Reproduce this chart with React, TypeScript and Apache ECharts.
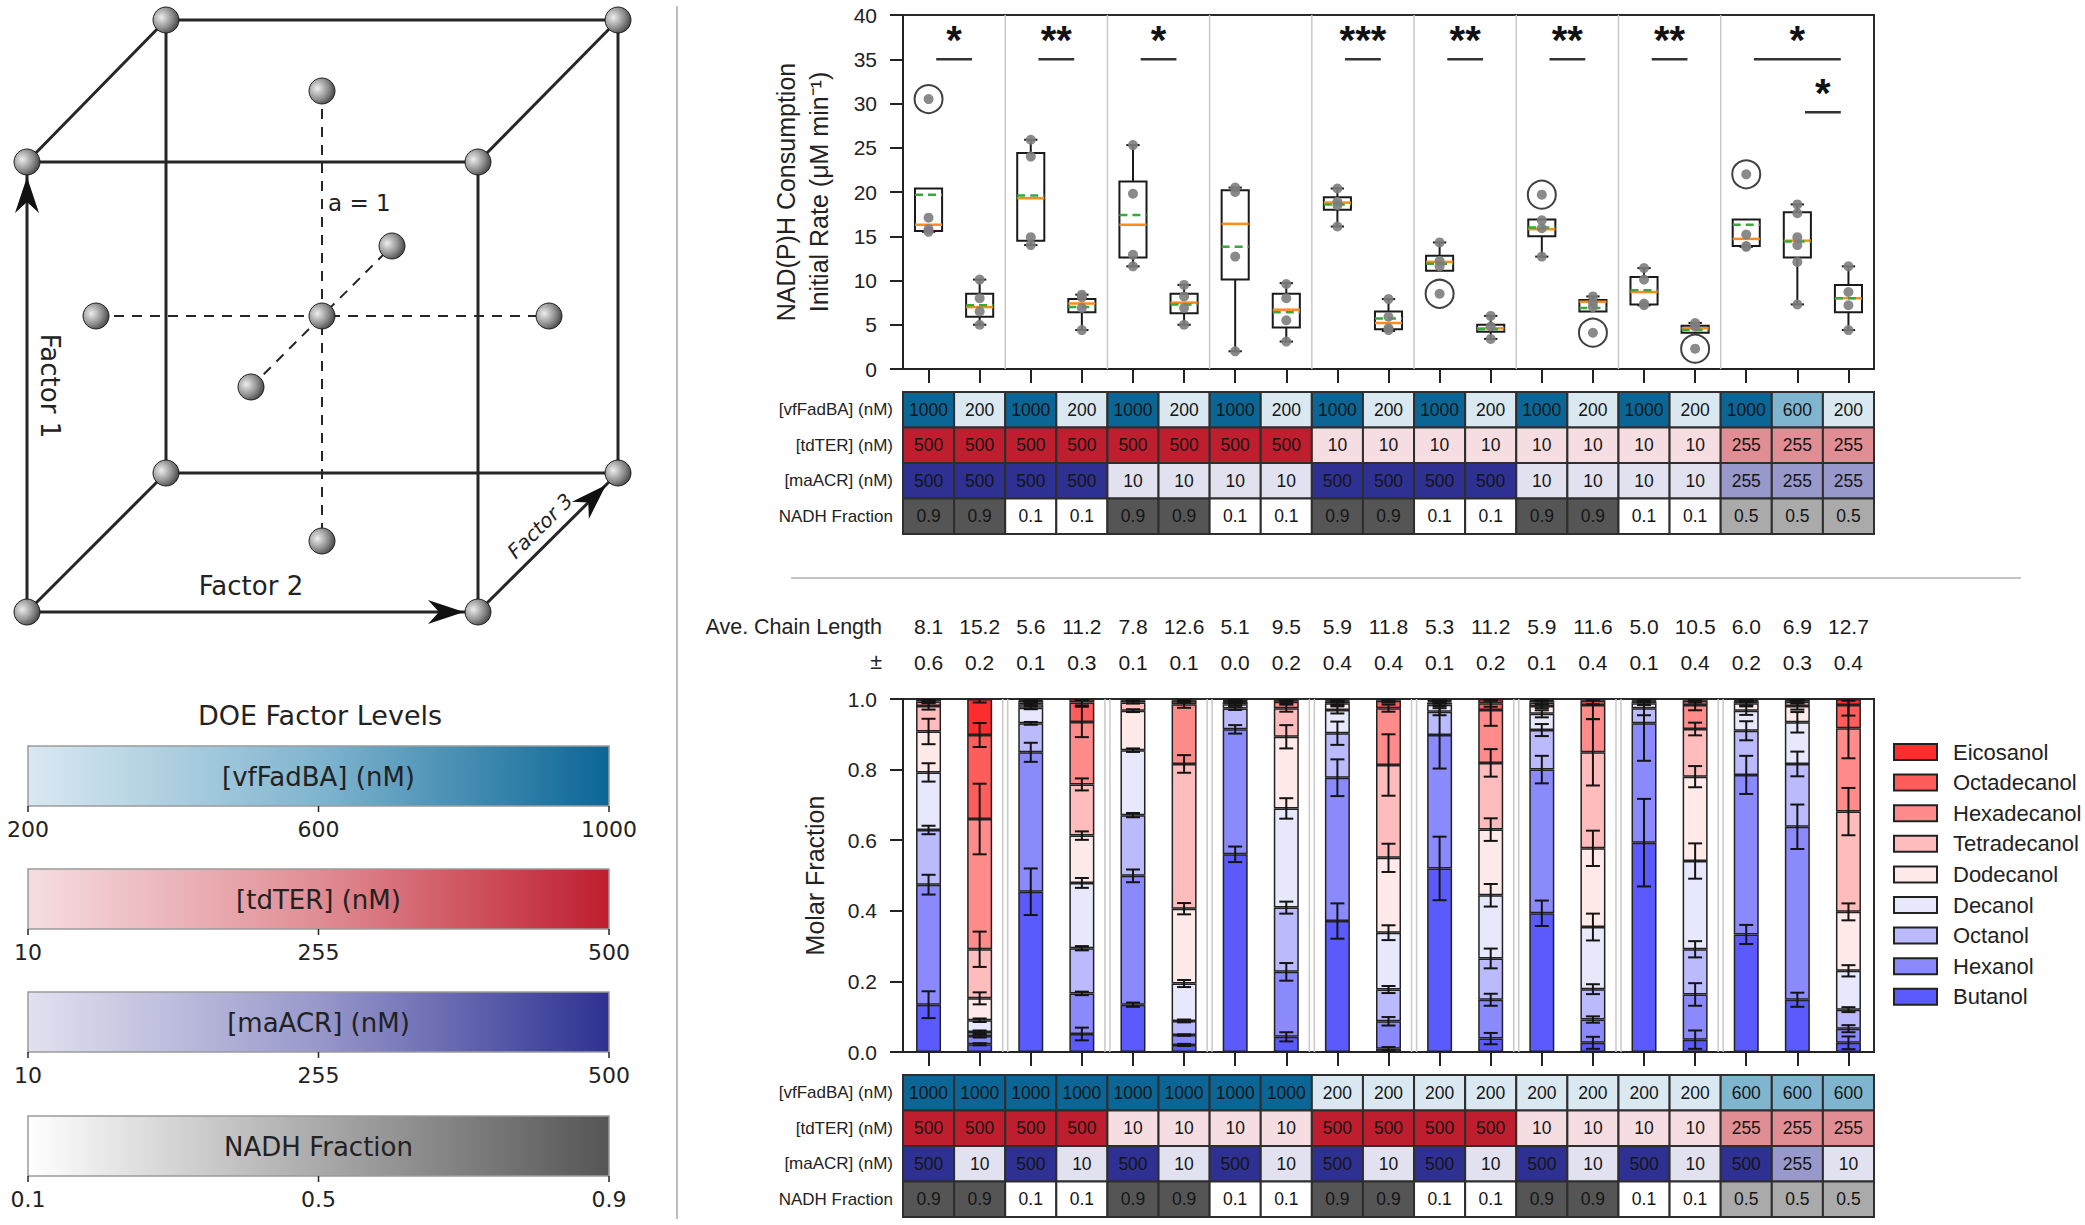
import React, { useEffect, useRef } from "react";
import * as echarts from "echarts";

const CHART_FONT = "'Liberation Sans', Arial, Helvetica, sans-serif";
const PANEL_FONT = "'DejaVu Sans', Verdana, sans-serif";

// ---------- categories ----------
const conditions = ["1","2","3","4","5","6","7","8","9","10","11","12","13","14","15","16","17","18","19"];
const groupSizes = [2, 2, 2, 2, 2, 2, 2, 2, 3];

// ---------- top: NAD(P)H consumption initial rate (box plots) ----------
const boxLow = [15.5, 5.0, 14.0, 4.4, 11.6, 5.0, 2.0, 3.1, 16.1, 4.3, 11.1, 3.4, 12.7, 6.5, 7.2, 4.1, 13.8, 7.3, 4.4];
const boxQ1 = [15.6, 5.9, 14.5, 6.4, 12.6, 6.3, 10.1, 4.7, 18.0, 4.5, 11.1, 4.2, 15.0, 6.5, 7.3, 4.1, 13.9, 12.6, 6.4];
const boxMedian = [16.3, 7.0, 19.3, 7.4, 16.3, 7.5, 16.4, 6.7, 18.8, 5.2, 12.1, 4.6, 15.8, 7.6, 8.7, 4.6, 14.7, 14.5, 8.0];
const boxQ3 = [20.4, 8.5, 24.4, 7.9, 21.2, 8.5, 20.2, 8.5, 19.4, 6.5, 12.8, 5.0, 16.9, 7.8, 10.4, 4.9, 16.9, 17.7, 9.5];
const boxHigh = [20.4, 10.1, 25.9, 8.4, 25.3, 9.5, 20.5, 9.7, 20.4, 7.9, 14.3, 6.0, 16.9, 8.2, 11.4, 5.2, 16.9, 18.6, 11.6];
const boxMean = [19.7, 7.2, 19.6, 7.0, 17.4, 7.3, 13.8, 6.4, 18.6, 5.7, 11.9, 4.5, 16.0, 6.9, 8.9, 4.4, 16.3, 14.4, 8.0];
const boxPoints = [
  [17.1, 15.8, 15.5],
  [10.1, 8.0, 6.5, 5.0],
  [25.9, 24.0, 14.9, 14.0],
  [8.4, 8.1, 6.9, 4.4],
  [25.3, 19.8, 12.9, 11.6],
  [9.5, 8.2, 6.9, 5.0],
  [20.5, 20.0, 12.7, 2.0],
  [9.6, 8.0, 5.5, 3.1],
  [20.4, 18.9, 18.5, 16.1],
  [7.9, 5.9, 4.6, 4.4],
  [14.3, 12.2, 11.6],
  [6.0, 4.8, 3.4],
  [16.8, 15.9, 12.7],
  [8.2, 7.5, 7.0],
  [11.4, 10.1, 7.4, 7.2],
  [5.2, 4.8],
  [15.2, 13.9, 13.8],
  [18.6, 17.6, 14.9, 14.0, 12.1, 7.3],
  [11.6, 8.7, 7.2, 4.4],
];
const outlierRuns = [0, 10, 12, 13, 15, 16];
const outlierValues = [30.5, 8.5, 19.7, 4.1, 2.3, 22.0];
const sigFrom = [0, 2, 4, 8, 10, 12, 14, 16, 17];
const sigTo = [1, 3, 5, 9, 11, 13, 15, 18, 18];
const sigLevel = [35, 35, 35, 35, 35, 35, 35, 35, 29];
const sigLabels = ["*", "**", "*", "***", "**", "**", "**", "*", "*"];

// ---------- factor tables ----------
const factorNames = ["[vfFadBA] (nM)", "[tdTER] (nM)", "[maACR] (nM)", "NADH Fraction"];
const topVfFadBA = [1000, 200, 1000, 200, 1000, 200, 1000, 200, 1000, 200, 1000, 200, 1000, 200, 1000, 200, 1000, 600, 200];
const topTdTER = [500, 500, 500, 500, 500, 500, 500, 500, 10, 10, 10, 10, 10, 10, 10, 10, 255, 255, 255];
const topMaACR = [500, 500, 500, 500, 10, 10, 10, 10, 500, 500, 500, 500, 10, 10, 10, 10, 255, 255, 255];
const topNADH = [0.9, 0.9, 0.1, 0.1, 0.9, 0.9, 0.1, 0.1, 0.9, 0.9, 0.1, 0.1, 0.9, 0.9, 0.1, 0.1, 0.5, 0.5, 0.5];
const botVfFadBA = [1000, 1000, 1000, 1000, 1000, 1000, 1000, 1000, 200, 200, 200, 200, 200, 200, 200, 200, 600, 600, 600];
const botTdTER = [500, 500, 500, 500, 10, 10, 10, 10, 500, 500, 500, 500, 10, 10, 10, 10, 255, 255, 255];
const botMaACR = [500, 10, 500, 10, 500, 10, 500, 10, 500, 10, 500, 10, 500, 10, 500, 10, 500, 255, 10];
const botNADH = [0.9, 0.9, 0.1, 0.1, 0.9, 0.9, 0.1, 0.1, 0.9, 0.9, 0.1, 0.1, 0.9, 0.9, 0.1, 0.1, 0.5, 0.5, 0.5];

// ---------- chain length ----------
const chainRowNames = ["Ave. Chain Length", "\u00B1"];
const chainLength = [8.1, 15.2, 5.6, 11.2, 7.8, 12.6, 5.1, 9.5, 5.9, 11.8, 5.3, 11.2, 5.9, 11.6, 5.0, 10.5, 6.0, 6.9, 12.7];
const chainErr = [0.6, 0.2, 0.1, 0.3, 0.1, 0.1, 0.0, 0.2, 0.4, 0.4, 0.1, 0.2, 0.1, 0.4, 0.1, 0.4, 0.2, 0.3, 0.4];

// ---------- bottom: molar fractions (stack order bottom -> top) ----------
const alcoholNames = ["Butanol", "Hexanol", "Octanol", "Decanol", "Dodecanol", "Tetradecanol", "Hexadecanol", "Octadecanol", "Eicosanol"];
const butanol = [0.134, 0.022, 0.454, 0.051, 0.134, 0.020, 0.560, 0.043, 0.371, 0.009, 0.520, 0.038, 0.393, 0.026, 0.593, 0.035, 0.333, 0.148, 0.026];
const hexanol = [0.340, 0.023, 0.395, 0.115, 0.365, 0.028, 0.354, 0.184, 0.406, 0.078, 0.378, 0.110, 0.407, 0.066, 0.338, 0.128, 0.452, 0.490, 0.040];
const octanol = [0.155, 0.012, 0.082, 0.128, 0.172, 0.040, 0.059, 0.182, 0.126, 0.090, 0.066, 0.117, 0.112, 0.086, 0.043, 0.128, 0.125, 0.178, 0.054];
const decanol = [0.163, 0.033, 0.044, 0.185, 0.184, 0.106, 0.012, 0.281, 0.066, 0.161, 0.020, 0.179, 0.046, 0.176, 0.014, 0.250, 0.057, 0.118, 0.110];
const dodecanol = [0.116, 0.062, 0.010, 0.134, 0.112, 0.212, 0.007, 0.203, 0.019, 0.212, 0.006, 0.186, 0.022, 0.223, 0.005, 0.239, 0.021, 0.046, 0.167];
const tetradecanol = [0.072, 0.139, 0.005, 0.145, 0.023, 0.410, 0.003, 0.081, 0.005, 0.263, 0.004, 0.189, 0.010, 0.272, 0.003, 0.135, 0.006, 0.012, 0.284];
const hexadecanol = [0.013, 0.369, 0.005, 0.177, 0.006, 0.169, 0.002, 0.018, 0.003, 0.161, 0.003, 0.150, 0.005, 0.134, 0.002, 0.068, 0.003, 0.005, 0.236];
const octadecanol = [0.005, 0.238, 0.003, 0.055, 0.003, 0.010, 0.002, 0.005, 0.002, 0.021, 0.002, 0.019, 0.003, 0.012, 0.001, 0.012, 0.002, 0.002, 0.066];
const eicosanol = [0.002, 0.102, 0.002, 0.010, 0.001, 0.005, 0.001, 0.003, 0.002, 0.005, 0.001, 0.012, 0.002, 0.005, 0.001, 0.005, 0.001, 0.001, 0.017];

const butanolErr = [0.038, 0.003, 0.066, 0.018, 0.006, 0.003, 0.022, 0.013, 0.050, 0.005, 0.090, 0.016, 0.036, 0.017, 0.124, 0.026, 0.027, 0.020, 0.018];
const hexanolErr = [0.028, 0.004, 0.027, 0.005, 0.018, 0.002, 0.012, 0.025, 0.052, 0.012, 0.095, 0.017, 0.039, 0.009, 0.106, 0.032, 0.054, 0.063, 0.010];
const octanolErr = [0.012, 0.004, 0.004, 0.006, 0.006, 0.004, 0.004, 0.017, 0.033, 0.010, 0.010, 0.028, 0.017, 0.014, 0.020, 0.023, 0.027, 0.035, 0.007];
const decanolErr = [0.026, 0.005, 0.004, 0.014, 0.005, 0.010, 0.003, 0.029, 0.010, 0.021, 0.004, 0.032, 0.010, 0.038, 0.005, 0.050, 0.012, 0.029, 0.016];
const dodecanolErr = [0.036, 0.017, 0.003, 0.012, 0.004, 0.016, 0.002, 0.033, 0.005, 0.040, 0.003, 0.032, 0.006, 0.050, 0.003, 0.030, 0.006, 0.010, 0.024];
const tetradecanolErr = [0.010, 0.050, 0.003, 0.017, 0.003, 0.025, 0.001, 0.010, 0.003, 0.087, 0.002, 0.039, 0.004, 0.094, 0.002, 0.018, 0.003, 0.005, 0.067];
const hexadecanolErr = [0.005, 0.100, 0.002, 0.043, 0.002, 0.010, 0.001, 0.005, 0.002, 0.010, 0.002, 0.045, 0.002, 0.040, 0.001, 0.015, 0.002, 0.002, 0.085];
const octadecanolErr = [0.003, 0.034, 0.002, 0.008, 0.001, 0.005, 0.001, 0.003, 0.002, 0.005, 0.001, 0.010, 0.001, 0.010, 0.001, 0.005, 0.001, 0.001, 0.030];
const eicosanolErr = [0.005, 0.010, 0.002, 0.003, 0.001, 0.003, 0.001, 0.002, 0.001, 0.003, 0.001, 0.005, 0.001, 0.003, 0.001, 0.003, 0.001, 0.001, 0.005];

const alcoholValues = [butanol, hexanol, octanol, decanol, dodecanol, tetradecanol, hexadecanol, octadecanol, eicosanol];
const alcoholErrs = [butanolErr, hexanolErr, octanolErr, decanolErr, dodecanolErr, tetradecanolErr, hexadecanolErr, octadecanolErr, eicosanolErr];
const alcoholColors = ["#5b5bfd", "#8a8afd", "#babafd", "#e8e8fd", "#ffe9e9", "#ffbcbc", "#ff8b8b", "#ff5c5c", "#ff2d2d"];

// ---------- colour ramps for factor levels ----------
const vfStops: [number, string][] = [[200, "#d9e8f1"], [600, "#80b5cf"], [1000, "#0b6696"]];
const terStops: [number, string][] = [[10, "#f6dde1"], [255, "#e08d94"], [500, "#bf1e2e"]];
const acrStops: [number, string][] = [[10, "#e1e1ef"], [255, "#9898cb"], [500, "#2e3192"]];
const nadhStops: [number, string][] = [[0.1, "#ffffff"], [0.5, "#aaaaaa"], [0.9, "#555555"]];
const rowStops = [vfStops, terStops, acrStops, nadhStops];
const levelTicks = [["200", "600", "1000"], ["10", "255", "500"], ["10", "255", "500"], ["0.1", "0.5", "0.9"]];

function hexToRgb(h: string) {
  const n = parseInt(h.slice(1), 16);
  return [(n >> 16) & 255, (n >> 8) & 255, n & 255];
}
function rampColor(stops: [number, string][], v: number) {
  let i = 0;
  while (i < stops.length - 2 && v > stops[i + 1][0]) i++;
  const [v0, c0] = stops[i];
  const [v1, c1] = stops[i + 1];
  const t = Math.max(0, Math.min(1, (v - v0) / (v1 - v0)));
  const a = hexToRgb(c0), b = hexToRgb(c1);
  const c = a.map((x, k) => Math.round(x + (b[k] - x) * t));
  return `rgb(${c[0]},${c[1]},${c[2]})`;
}

function tableData(rows: number[][]) {
  const out: number[][] = [];
  rows.forEach((r, ri) => r.forEach((v, ci) => out.push([ci, ri, v])));
  return out;
}

function separatorIndices() {
  const out: number[][] = [];
  let acc = 0;
  groupSizes.slice(0, -1).forEach((g) => {
    acc += g;
    out.push([acc - 1, 0]);
  });
  return out;
}

function tableSeries(gridIdx: number, rows: number[][]) {
  return {
    type: "custom",
    xAxisIndex: gridIdx,
    yAxisIndex: gridIdx,
    encode: { x: 0, y: 1 },
    data: tableData(rows),
    renderItem: (params: any, api: any) => {
      const col = api.value(0), row = api.value(1), v = api.value(2);
      const c = api.coord([col, row]);
      const s = api.size([1, 1]);
      return {
        type: "group",
        children: [
          {
            type: "rect",
            shape: { x: c[0] - s[0] / 2, y: c[1] - s[1] / 2, width: s[0], height: s[1] },
            style: { fill: rampColor(rowStops[row], v), stroke: "#2e2e2e", lineWidth: 2 },
          },
          {
            type: "text",
            x: c[0],
            y: c[1],
            style: {
              text: String(v), fill: "#151515", fontSize: 17.5, fontFamily: CHART_FONT,
              align: "center", verticalAlign: "middle", textAlign: "center", textVerticalAlign: "middle",
            },
          },
        ],
      };
    },
  };
}

function separatorSeries(gridIdx: number, double: boolean) {
  return {
    type: "custom",
    xAxisIndex: gridIdx,
    yAxisIndex: gridIdx,
    z: 1,
    encode: { x: 0, y: 1 },
    data: separatorIndices(),
    renderItem: (params: any, api: any) => {
      const cs = params.coordSys;
      const x = api.coord([api.value(0), 0])[0] + api.size([1, 0])[0] / 2;
      const offs = double ? [-2.5, 2.5] : [0];
      return {
        type: "group",
        children: offs.map((o) => ({
          type: "line",
          shape: { x1: x + o, y1: cs.y, x2: x + o, y2: cs.y + cs.height },
          style: { stroke: "#c8c8c8", lineWidth: 1.5 },
        })),
      };
    },
  };
}

// ---------- left panel (DOE cube + colour bars) ----------
function buildPanel() {
  const els: any[] = [];
  const dark = "#262626";
  const line = (a: number[], b: number[], w = 3, dash?: number[]) => ({
    type: "line", z: 1,
    shape: { x1: a[0], y1: a[1], x2: b[0], y2: b[1] },
    style: { stroke: dark, lineWidth: w, lineDash: dash },
  });
  const fTL = [27, 162], fTR = [478, 162], fBR = [478, 612], fBL = [27, 612];
  const bTL = [166, 20], bTR = [618, 20], bBR = [618, 473], bBL = [166, 473];
  const center = [322, 316];
  const sTop = [322, 91], sBot = [322, 541], sLeft = [96, 316], sRight = [549, 316], sBack = [392, 246], sFront = [251, 387];
  [[fTL, fTR], [fTR, fBR], [fBL, fTL], [fBL, fBR], [bTL, bTR], [bTR, bBR], [bBR, bBL], [bBL, bTL], [fTL, bTL], [fTR, bTR], [fBL, bBL], [fBR, bBR]]
    .forEach(([a, b]) => els.push(line(a, b, 3)));
  [[sTop, sBot], [sLeft, sRight], [sFront, sBack]].forEach(([a, b]) => els.push(line(a, b, 2, [10, 8])));
  const arrow = (tip: number[], dir: number[]) => {
    const L = Math.hypot(dir[0], dir[1]);
    const d = [dir[0] / L, dir[1] / L];
    const p = [-d[1], d[0]];
    const len = 36, half = 12, notch = 11;
    return {
      type: "polygon", z: 2,
      shape: {
        points: [
          tip,
          [tip[0] - d[0] * len + p[0] * half, tip[1] - d[1] * len + p[1] * half],
          [tip[0] - d[0] * (len - notch), tip[1] - d[1] * (len - notch)],
          [tip[0] - d[0] * len - p[0] * half, tip[1] - d[1] * len - p[1] * half],
        ],
      },
      style: { fill: "#111" },
    };
  };
  els.push(arrow([27, 177], [0, -1]));
  els.push(arrow([464, 612], [1, 0]));
  els.push(arrow([606, 485], [140, -139]));
  [fTL, fTR, fBR, fBL, bTL, bTR, bBR, bBL, center, sTop, sBot, sLeft, sRight, sBack, sFront].forEach((c) =>
    els.push({
      type: "circle", z: 3,
      shape: { cx: c[0], cy: c[1], r: 13 },
      style: {
        fill: { type: "radial", x: 0.32, y: 0.4, r: 0.8, colorStops: [{ offset: 0, color: "#eeeeee" }, { offset: 0.55, color: "#8a8a8a" }, { offset: 1, color: "#2a2a2a" }] },
        stroke: "#1e1e1e", lineWidth: 1,
      },
    })
  );
  const txt = (text: string, x: number, y: number, size: number, extra: any = {}, st: any = {}) => ({
    type: "text", x, y, z: 4, ...extra,
    style: {
      text, fontSize: size, fontFamily: PANEL_FONT, fill: "#222",
      align: "center", verticalAlign: "middle", textAlign: "center", textVerticalAlign: "middle", ...st,
    },
  });
  els.push(txt("a = 1", 328, 203, 23, {}, { align: "left", textAlign: "left" }));
  els.push(txt("Factor 1", 50, 386, 26, { rotation: -Math.PI / 2 }));
  els.push(txt("Factor 2", 251, 586, 26));
  els.push(txt("Factor 3", 540, 526, 20, { rotation: 0.78 }, { fontStyle: "italic" }));

  // colour bars
  els.push(txt("DOE Factor Levels", 320, 715, 27));
  const barTops = [746, 869, 992, 1116];
  const bx = 28, bw = 581, bh = 60;
  barTops.forEach((y, i) => {
    const stops = rowStops[i];
    const lo = stops[0][0], hi = stops[stops.length - 1][0];
    els.push({
      type: "rect", z: 1,
      shape: { x: bx, y, width: bw, height: bh },
      style: {
        fill: { type: "linear", x: 0, y: 0, x2: 1, y2: 0, colorStops: stops.map(([v, c]) => ({ offset: (v - lo) / (hi - lo), color: c })) },
        stroke: "#9a9a9a", lineWidth: 1.5,
      },
    });
    els.push(txt(factorNames[i], bx + bw / 2, y + bh / 2 + 1, 26));
    [0, 0.5, 1].forEach((f, k) => {
      const x = bx + bw * f;
      els.push(line([x, y + bh], [x, y + bh + 6], 1.5));
      els.push(txt(levelTicks[i][k], x, y + bh + 23, 22));
    });
  });

  // dividers
  els.push({ type: "line", z: 0, shape: { x1: 677, y1: 6, x2: 677, y2: 1219 }, style: { stroke: "#a8a8a8", lineWidth: 1.5 } });
  els.push({ type: "line", z: 0, shape: { x1: 791, y1: 578, x2: 2021, y2: 578 }, style: { stroke: "#b0b0b0", lineWidth: 1.5 } });
  return els;
}

function buildOption() {
  const axisCol = "#222";
  const hiddenX = (g: number) => ({ type: "category", gridIndex: g, data: conditions, show: false });
  const tableY = (g: number, names: string[], margin: number, size: number) => ({
    type: "category", gridIndex: g, data: names, inverse: true,
    axisLine: { show: false }, axisTick: { show: false }, splitLine: { show: false },
    axisLabel: { fontSize: size, color: axisCol, margin, fontFamily: CHART_FONT },
  });

  const boxData = conditions.map((_, i) => [i, boxLow[i], boxQ1[i], boxMedian[i], boxQ3[i], boxHigh[i], boxMean[i]]);
  const pointData: number[][] = [];
  boxPoints.forEach((pts, i) => pts.forEach((v) => pointData.push([i, v])));
  const outlierData = outlierRuns.map((r, k) => [r, outlierValues[k]]);
  const sigData = sigFrom.map((f, k) => [f, sigTo[k], sigLevel[k]]);

  const errData: number[][] = [];
  conditions.forEach((_, i) => {
    let cum = 0;
    alcoholValues.forEach((arr, k) => {
      cum += arr[i];
      errData.push([i, cum, alcoholErrs[k][i]]);
    });
  });

  const chainData: number[][] = [];
  conditions.forEach((_, i) => {
    chainData.push([i, 0, chainLength[i]]);
    chainData.push([i, 1, chainErr[i]]);
  });

  return {
    animation: false,
    backgroundColor: "#ffffff",
    textStyle: { fontFamily: CHART_FONT },
    graphic: { elements: buildPanel() },
    legend: {
      data: alcoholNames.slice().reverse(),
      orient: "vertical", left: 1893, top: 741, padding: 0,
      itemWidth: 43, itemHeight: 16, itemGap: 8.6, icon: "rect", selectedMode: false,
      textStyle: { fontSize: 22, color: axisCol, fontFamily: CHART_FONT, lineHeight: 16, padding: [0, 0, 0, 11] },
    },
    grid: [
      { left: 903, top: 15, width: 971, height: 354, show: true, borderColor: "#2a2a2a", borderWidth: 2 },
      { left: 903, top: 392, width: 971, height: 142 },
      { left: 903, top: 609, width: 971, height: 71 },
      { left: 903, top: 699, width: 971, height: 353, show: true, borderColor: "#2a2a2a", borderWidth: 2 },
      { left: 903, top: 1075, width: 971, height: 142 },
    ],
    xAxis: [
      {
        type: "category", gridIndex: 0, data: conditions,
        axisLabel: { show: false },
        axisTick: { show: true, alignWithLabel: true, length: 14, lineStyle: { color: axisCol, width: 2 } },
        axisLine: { lineStyle: { color: axisCol, width: 2 } },
      },
      hiddenX(1),
      hiddenX(2),
      {
        type: "category", gridIndex: 3, data: conditions,
        axisLabel: { show: false },
        axisTick: { show: true, alignWithLabel: true, length: 14, lineStyle: { color: axisCol, width: 2 } },
        axisLine: { lineStyle: { color: axisCol, width: 2 } },
      },
      hiddenX(4),
    ],
    yAxis: [
      {
        type: "value", gridIndex: 0, min: 0, max: 40, interval: 5,
        axisLine: { show: true, lineStyle: { color: axisCol, width: 2 } },
        axisTick: { show: true, length: 13, lineStyle: { color: axisCol, width: 2 } },
        axisLabel: { fontSize: 21, color: axisCol, margin: 26 },
        splitLine: { show: false },
        name: "NAD(P)H Consumption\nInitial Rate (\u03BCM min\u207B\u00B9)",
        nameLocation: "middle", nameGap: 68,
        nameTextStyle: { fontSize: 25, lineHeight: 33, color: axisCol },
      },
      tableY(1, factorNames, 10, 17),
      tableY(2, chainRowNames, 21, 21.5),
      {
        type: "value", gridIndex: 3, min: 0, max: 1, interval: 0.2,
        axisLine: { show: true, lineStyle: { color: axisCol, width: 2 } },
        axisTick: { show: true, length: 13, lineStyle: { color: axisCol, width: 2 } },
        axisLabel: { fontSize: 21, color: axisCol, margin: 26, formatter: (v: number) => v.toFixed(1) },
        splitLine: { show: false },
        name: "Molar Fraction", nameLocation: "middle", nameGap: 76,
        nameTextStyle: { fontSize: 25, color: axisCol },
      },
      tableY(4, factorNames, 10, 17),
    ],
    series: [
      separatorSeries(0, false),
      {
        type: "custom", xAxisIndex: 0, yAxisIndex: 0, z: 3,
        encode: { x: 0, y: [1, 2, 3, 4, 5] },
        data: boxData,
        renderItem: (params: any, api: any) => {
          const i = api.value(0);
          const xc = api.coord([i, 0])[0];
          const Y = (v: number) => api.coord([i, v])[1];
          const bw = api.size([1, 0])[0];
          const half = bw * 0.265, cap = bw * 0.13;
          const low = api.value(1), q1 = api.value(2), med = api.value(3), q3 = api.value(4), high = api.value(5), mean = api.value(6);
          const ls = { stroke: "#1a1a1a", lineWidth: 2 };
          const ch: any[] = [];
          if (q1 > low) {
            ch.push({ type: "line", shape: { x1: xc, y1: Y(q1), x2: xc, y2: Y(low) }, style: ls });
            ch.push({ type: "line", shape: { x1: xc - cap, y1: Y(low), x2: xc + cap, y2: Y(low) }, style: ls });
          }
          if (high > q3) {
            ch.push({ type: "line", shape: { x1: xc, y1: Y(q3), x2: xc, y2: Y(high) }, style: ls });
            ch.push({ type: "line", shape: { x1: xc - cap, y1: Y(high), x2: xc + cap, y2: Y(high) }, style: ls });
          }
          ch.push({ type: "rect", shape: { x: xc - half, y: Y(q3), width: half * 2, height: Y(q1) - Y(q3) }, style: { fill: "none", stroke: "#1a1a1a", lineWidth: 2 } });
          ch.push({ type: "line", shape: { x1: xc - half, y1: Y(med), x2: xc + half, y2: Y(med) }, style: { stroke: "#ff8c1a", lineWidth: 2.5 } });
          ch.push({ type: "line", shape: { x1: xc - half, y1: Y(mean), x2: xc + half, y2: Y(mean) }, style: { stroke: "#3aa83a", lineWidth: 2.5, lineDash: [8, 5] } });
          return { type: "group", children: ch };
        },
      },
      {
        type: "scatter", xAxisIndex: 0, yAxisIndex: 0, z: 4,
        data: pointData, symbolSize: 10,
        itemStyle: { color: "#7d7d7d", opacity: 0.9 },
      },
      {
        type: "scatter", xAxisIndex: 0, yAxisIndex: 0, z: 4,
        data: outlierData, symbolSize: 10,
        itemStyle: { color: "#7d7d7d", opacity: 0.9 },
      },
      {
        type: "scatter", xAxisIndex: 0, yAxisIndex: 0, z: 5,
        data: outlierData, symbolSize: 28,
        itemStyle: { color: "rgba(0,0,0,0)", borderColor: "#111", borderWidth: 2 },
      },
      {
        type: "custom", xAxisIndex: 0, yAxisIndex: 0, z: 5,
        encode: { x: [0, 1], y: 2 },
        data: sigData,
        renderItem: (params: any, api: any) => {
          const bw = api.size([1, 0])[0];
          const p1 = api.coord([api.value(0), api.value(2)]);
          const p2 = api.coord([api.value(1), api.value(2)]);
          const x1 = p1[0] + bw * 0.15, x2 = p2[0] - bw * 0.15;
          return {
            type: "group",
            children: [
              { type: "line", shape: { x1, y1: p1[1], x2, y2: p1[1] }, style: { stroke: "#333", lineWidth: 2.5 } },
              {
                type: "text", x: (x1 + x2) / 2, y: p1[1] - 19,
                style: {
                  text: sigLabels[params.dataIndex], fontSize: 40, fontWeight: "bold", fontFamily: CHART_FONT, fill: "#111",
                  align: "center", verticalAlign: "middle", textAlign: "center", textVerticalAlign: "middle",
                },
              },
            ],
          };
        },
      },
      tableSeries(1, [topVfFadBA, topTdTER, topMaACR, topNADH]),
      {
        type: "custom", xAxisIndex: 2, yAxisIndex: 2,
        encode: { x: 0, y: 1 },
        data: chainData,
        renderItem: (params: any, api: any) => {
          const c = api.coord([api.value(0), api.value(1)]);
          return {
            type: "text", x: c[0], y: c[1],
            style: {
              text: api.value(2).toFixed(1), fontSize: 21, fontFamily: CHART_FONT, fill: "#1a1a1a",
              align: "center", verticalAlign: "middle", textAlign: "center", textVerticalAlign: "middle",
            },
          };
        },
      },
      separatorSeries(3, true),
      ...alcoholNames.map((name, k) => ({
        type: "bar", name, xAxisIndex: 3, yAxisIndex: 3, stack: "fraction", z: 2,
        barWidth: 25,
        data: alcoholValues[k],
        itemStyle: { color: alcoholColors[k], borderColor: "#222", borderWidth: 1.5 },
      })),
      {
        type: "custom", xAxisIndex: 3, yAxisIndex: 3, z: 6, clip: true,
        encode: { x: 0, y: 1 },
        data: errData,
        renderItem: (params: any, api: any) => {
          const i = api.value(0), cum = api.value(1), e = api.value(2);
          if (!(e > 0)) return { type: "group", children: [] };
          const top = api.coord([i, Math.min(1, cum + e)]);
          const topRaw = api.coord([i, cum + e]);
          const bot = api.coord([i, cum - e]);
          const xc = top[0], cap = 7;
          const ls = { stroke: "#141414", lineWidth: 2 };
          const ch: any[] = [
            { type: "line", shape: { x1: xc, y1: top[1], x2: xc, y2: bot[1] }, style: ls },
            { type: "line", shape: { x1: xc - cap, y1: bot[1], x2: xc + cap, y2: bot[1] }, style: ls },
          ];
          if (cum + e <= 1.0005) ch.push({ type: "line", shape: { x1: xc - cap, y1: topRaw[1], x2: xc + cap, y2: topRaw[1] }, style: ls });
          return { type: "group", children: ch };
        },
      },
      tableSeries(4, [botVfFadBA, botTdTER, botMaACR, botNADH]),
    ],
  };
}

export default function App() {
  const ref = useRef<HTMLDivElement>(null);
  useEffect(() => {
    document.body.style.margin = "0";
    const chart = echarts.init(ref.current as HTMLDivElement, null, { renderer: "svg" });
    chart.setOption(buildOption() as any);
    return () => chart.dispose();
  }, []);
  return <div ref={ref} style={{ width: 2085, height: 1225, background: "#fff" }} />;
}
